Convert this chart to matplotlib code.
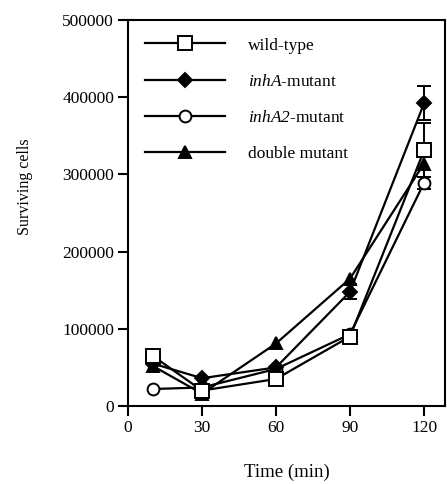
import matplotlib
matplotlib.use("Agg")
import matplotlib.pyplot as plt
from matplotlib.lines import Line2D

time = [10, 30, 60, 90, 120]
wild_type = [65000, 20000, 35000, 90000, 331000]
wild_type_err = [0, 0, 0, 0, 35000]
inhA = [55000, 36000, 50000, 148000, 392000]
inhA_err = [0, 0, 0, 10000, 22000]
inhA2 = [22000, 24000, 48000, 93000, 289000]
inhA2_err = [0, 0, 0, 0, 8000]
double = [52000, 16000, 81000, 165000, 314000]
double_err = [0, 0, 0, 0, 18000]

x_ticks = [0, 30, 60, 90, 120]
y_ticks = [0, 100000, 200000, 300000, 400000, 500000]

plt.rcParams['font.family'] = ['Liberation Serif', 'DejaVu Serif']
plt.rcParams['mathtext.fontset'] = 'custom'
plt.rcParams['mathtext.rm'] = 'Liberation Serif:italic'
plt.rcParams['mathtext.it'] = 'Liberation Serif:italic'

fig = plt.figure(figsize=(4.47, 4.84), dpi=100)
ax = fig.add_axes([128/447, 1 - 406/484, 317/447, 386/484])

lw = 1.6
series = [
    (double, double_err, '^', 'black', 9, 'double mutant', 3),
    (inhA2, inhA2_err, 'o', 'white', 8.5, r'$\mathit{inhA2}$-mutant', 3),
    (inhA, inhA_err, 'D', 'black', 7, r'$\mathit{inhA}$-mutant', 3),
    (wild_type, wild_type_err, 's', 'white', 9.5, 'wild-type', 4),
]
for vals, errs, m, fc, ms, lab, z in series:
    ax.plot(time, vals, color='black', lw=lw, marker=m, mfc=fc, mec='black', mew=1.4,
            ms=ms, zorder=z)
    ex = [t for t, e in zip(time, errs) if e > 0]
    ey = [v for v, e in zip(vals, errs) if e > 0]
    ee = [e for e in errs if e > 0]
    ax.errorbar(ex, ey, yerr=ee, fmt='none', ecolor='black', elinewidth=1.4,
                capsize=5, capthick=1.4, zorder=2)

ax.set_xlim(0, 128.5)
ax.set_ylim(0, 500000)
ax.set_xticks(x_ticks)
ax.set_yticks(y_ticks)
ax.set_xticklabels([str(v) for v in x_ticks])
ax.set_yticklabels([str(v) for v in y_ticks])
ax.tick_params(direction='out', length=7, width=1.5, labelsize=12.5, pad=3)
for s in ax.spines.values():
    s.set_linewidth(1.5)

ax.set_xlabel('Time (min)', fontsize=13.5, labelpad=20)
ax.set_ylabel('Surviving cells', fontsize=11.5)
ax.yaxis.set_label_coords(-0.30, 0.567)

hs = []
specs = [('s', 'white', 9.5), ('D', 'black', 7), ('o', 'white', 8.5), ('^', 'black', 9)]
for m, fc, ms in specs:
    hs.append(Line2D([], [], color='black', lw=lw, marker=m, mfc=fc, mec='black', mew=1.4, ms=ms))
labs = ['wild-type', r'$\mathit{inhA}$-mutant', r'$\mathit{inhA2}$-mutant', 'double mutant']
ax.legend(hs, labs, loc='upper left', bbox_to_anchor=(0.054, 0.955), frameon=False,
          fontsize=12.5, handlelength=4.6, handletextpad=1.3, labelspacing=1.15,
          borderpad=0, borderaxespad=0)

fig.savefig('out.png', dpi=100)
